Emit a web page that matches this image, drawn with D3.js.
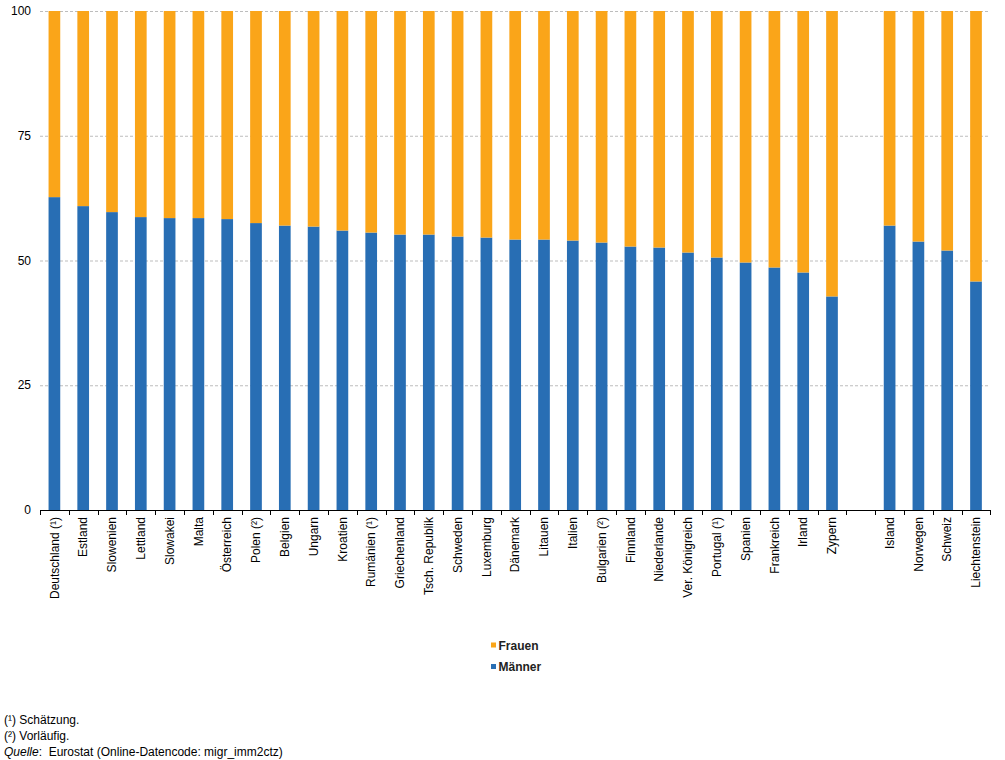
<!DOCTYPE html>
<html><head><meta charset="utf-8">
<script src="https://cdn.jsdelivr.net/npm/d3@7"></script>
<style>body{margin:0;background:#fff}svg{display:block;font-family:"Liberation Sans",Arial,sans-serif}</style>
</head><body>
<svg id="c" width="1005" height="760"></svg>
<script>
const categories = ["Deutschland (¹)","Estland","Slowenien","Lettland","Slowakei","Malta","Österreich","Polen (²)","Belgien","Ungarn","Kroatien","Rumänien (¹)","Griechenland","Tsch. Republik","Schweden","Luxemburg","Dänemark","Litauen","Italien","Bulgarien (²)","Finnland","Niederlande","Ver. Königreich","Portugal (¹)","Spanien","Frankreich","Irland","Zypern","","Island","Norwegen","Schweiz","Liechtenstein"];
const maenner = [62.7,60.9,59.7,58.7,58.5,58.5,58.3,57.5,57.0,56.8,56.0,55.6,55.2,55.2,54.8,54.6,54.2,54.2,54.0,53.6,52.8,52.6,51.6,50.6,49.6,48.6,47.6,42.8,null,57.0,53.8,52.0,45.8];
const frauen = maenner.map(v => v == null ? null : 100 - v);
const yTicks = [0,25,50,75,100];
const seriesNames = ["Frauen","Männer"];
const colors = {"Frauen":"#FAA519","Männer":"#286EB4"};
const notes = ["(¹) Schätzung.","(²) Vorläufig."];

const svg = d3.select("#c");
const x = d3.scaleBand().domain(d3.range(categories.length)).range([40,990.4]).paddingInner(0.594).paddingOuter(0.297);
const y = d3.scaleLinear().domain([0,100]).range([510,11]);

// grid
svg.append("g").selectAll("line").data(yTicks.filter(d=>d>0)).join("line")
  .attr("x1",40).attr("x2",990).attr("y1",d=>y(d)+0.5).attr("y2",d=>y(d)+0.5)
  .attr("stroke","#bdbdbd").attr("stroke-dasharray","3,2").attr("stroke-width",1);

// y labels
svg.append("g").selectAll("text").data(yTicks).join("text")
  .attr("x",31).attr("y",d=>y(d)).attr("dy","0.35em").attr("text-anchor","end")
  .attr("font-size",12).attr("fill","#000").text(d=>d);

// bars
const idx = d3.range(categories.length).filter(i=>maenner[i]!=null);
svg.append("g").selectAll("rect.m").data(idx).join("rect")
  .attr("x",i=>x(i)).attr("width",x.bandwidth())
  .attr("y",i=>y(maenner[i])).attr("height",i=>y(0)-y(maenner[i]))
  .attr("fill",colors["Männer"]);
svg.append("g").selectAll("rect.f").data(idx).join("rect")
  .attr("x",i=>x(i)).attr("width",x.bandwidth())
  .attr("y",i=>y(maenner[i]+frauen[i])).attr("height",i=>y(maenner[i])-y(maenner[i]+frauen[i]))
  .attr("fill",colors["Frauen"]);

// x axis
const step = x.step();
const x0 = 40;
svg.append("line").attr("x1",40).attr("x2",990.5).attr("y1",510.5).attr("y2",510.5).attr("stroke","#000");
svg.append("g").selectAll("line").data(d3.range(categories.length+1)).join("line")
  .attr("x1",i=>Math.round(x0+i*step)+0.5).attr("x2",i=>Math.round(x0+i*step)+0.5)
  .attr("y1",510).attr("y2",515).attr("stroke","#000");
svg.append("g").selectAll("text").data(d3.range(categories.length)).join("text")
  .attr("transform",i=>`translate(${x(i)+x.bandwidth()/2},517) rotate(-90)`)
  .attr("text-anchor","end").attr("dy","0.35em").attr("font-size",12).attr("fill","#000")
  .text(i=>categories[i]);

// legend
const lg = svg.append("g").attr("transform","translate(491,0)");
seriesNames.forEach((s,k)=>{
  const yy = 645.5 + k*21.5;
  lg.append("rect").attr("x",0).attr("y",yy-3).attr("width",5).attr("height",5).attr("fill",colors[s]);
  lg.append("text").attr("x",7.5).attr("y",yy).attr("dy","0.35em").attr("font-size",12)
    .attr("font-weight","bold").attr("fill","#222").text(s);
});

// footnotes
notes.forEach((n,k)=>{
  svg.append("text").attr("x",4).attr("y",724+k*16).attr("font-size",12).attr("fill","#000").text(n);
});
const q = svg.append("text").attr("x",4).attr("y",755.5).attr("font-size",12).attr("fill","#000");
q.append("tspan").attr("font-style","italic").text("Quelle");
q.append("tspan").attr("xml:space","preserve").text(":\u00A0 Eurostat (Online-Datencode: migr_imm2ctz)");
</script>
</body></html>
